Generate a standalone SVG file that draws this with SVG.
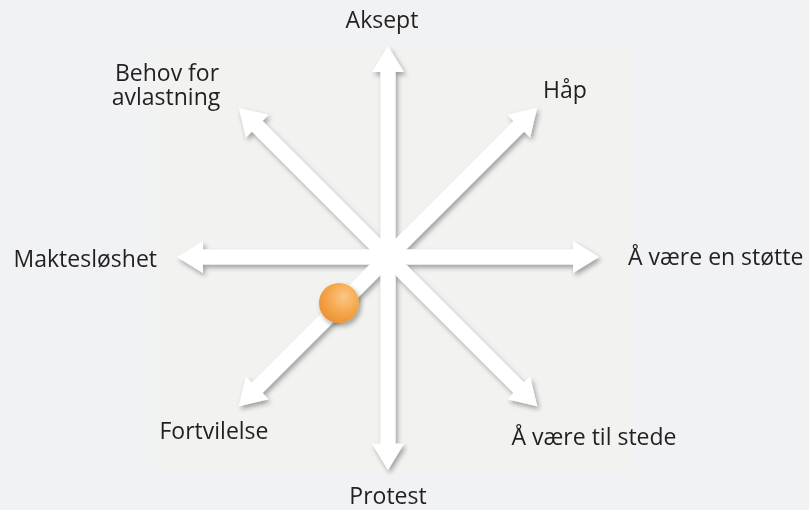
<svg xmlns="http://www.w3.org/2000/svg" width="809" height="510" viewBox="0 0 809 510">
  <defs>
    <style>
      .lbl { font-family: "Open Sans", "Noto Sans", "DejaVu Sans", sans-serif; font-size: 23px; fill: #231f20; }
      .arrow { fill: #ffffff; }
    </style>
    <filter id="shadow" x="-20%" y="-20%" width="140%" height="140%">
      <feDropShadow dx="2" dy="3" stdDeviation="2.5" flood-color="#000000" flood-opacity="0.35"/>
    </filter>
    <radialGradient id="ball" cx="0.62" cy="0.35" r="0.75">
      <stop offset="0" stop-color="#fac885"/>
      <stop offset="0.5" stop-color="#f5a84e"/>
      <stop offset="1" stop-color="#ea8d30"/>
    </radialGradient>
    <path id="arr" d="M0,-7.5 L185,-7.5 L185,-16 L211,0 L185,16 L185,7.5 L0,7.5 Z"/>
  </defs>

  <rect x="0" y="0" width="809" height="510" fill="#f1f2f4"/>
  <rect x="155" y="45" width="478" height="428" fill="#f2f2f0"/>

  <g id="connectors" filter="url(#shadow)" class="arrow">
    <use href="#arr" transform="translate(388,257) rotate(-90)"/>
    <use href="#arr" transform="translate(388,257) rotate(90) scale(1.01,1)"/>
    <use href="#arr" transform="translate(388,257) rotate(0)"/>
    <use href="#arr" transform="translate(388,257) rotate(180)"/>
    <use href="#arr" transform="translate(388,257) rotate(-45)"/>
    <use href="#arr" transform="translate(388,257) rotate(-135)"/>
    <use href="#arr" transform="translate(388,257) rotate(45)"/>
    <use href="#arr" transform="translate(388,257) rotate(135)"/>
  </g>

  <g id="ball-marker">
    <circle cx="339" cy="303" r="20" fill="url(#ball)" filter="url(#shadow)"/>
  </g>

  <g id="aksept"><text class="lbl" x="382" y="28" text-anchor="middle">Aksept</text></g>
  <g id="behov"><text class="lbl" x="167" y="81" text-anchor="middle">Behov for</text><text class="lbl" x="166" y="105" text-anchor="middle">avlastning</text></g>
  <g id="haap"><text class="lbl" x="565" y="98" text-anchor="middle">Håp</text></g>
  <g id="stotte"><text class="lbl" x="628" y="265">Å være en støtte</text></g>
  <g id="maktesloshet"><text class="lbl" x="157" y="267" text-anchor="end">Maktesløshet</text></g>
  <g id="fortvilelse"><text class="lbl" x="214" y="439" text-anchor="middle">Fortvilelse</text></g>
  <g id="tilstede"><text class="lbl" x="594" y="445" text-anchor="middle">Å være til stede</text></g>
  <g id="protest"><text class="lbl" x="388" y="504" text-anchor="middle">Protest</text></g>
</svg>
